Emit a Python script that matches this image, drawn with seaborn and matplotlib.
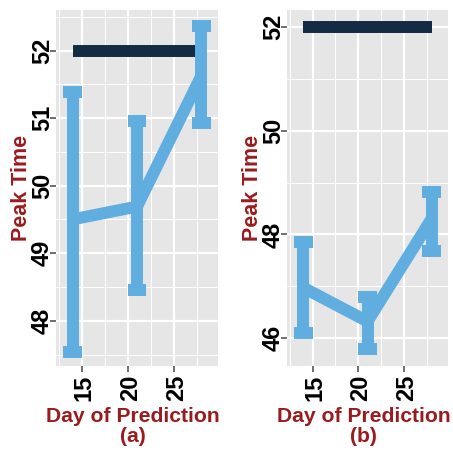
import matplotlib
matplotlib.use("Agg")
import matplotlib.pyplot as plt
import seaborn as sns
import pandas as pd
import numpy as np

# Prediction days and peak-time estimates for both scenarios
days = [14, 21, 28]
mean_a = [49.5, 49.69, 51.63]
low_a = [47.54, 48.46, 50.93]
high_a = [51.39, 50.96, 52.36]

mean_b = [46.97, 46.32, 48.3]
low_b = [46.1, 45.78, 47.67]
high_b = [47.85, 46.8, 48.81]

true_peak = 52
panel_tags = ["(a)", "(b)"]

blue = "#60ADDF"
navy = "#132B43"
label_red = "#9A1B1E"
panel_bg = "#E6E6E6"
LW = 8.6

sns.set_theme(style="darkgrid")
plt.rcParams["font.family"] = ["Liberation Sans", "DejaVu Sans"]

fig = plt.figure(figsize=(4.53, 4.50), dpi=100)
ax_a = fig.add_axes([56 / 453, 84 / 450, 162 / 453, 356 / 450])
ax_b = fig.add_axes([287 / 453, 84 / 450, 161 / 453, 356 / 450])

panels = [
    (ax_a, mean_a, low_a, high_a, (47.33, 52.6), [48, 49, 50, 51, 52]),
    (ax_b, mean_b, low_b, high_b, (45.46, 52.33), [46, 48, 50, 52]),
]

for (ax, mean, low, high, ylim, yticks), tag in zip(panels, panel_tags):
    df = pd.DataFrame({"day": days, "peak": mean, "low": low, "high": high})
    ax.set_facecolor(panel_bg)

    # reference line for the true peak
    ax.hlines(true_peak, days[0], days[-1], color=navy, lw=LW, zorder=3,
              capstyle="butt")

    # error bars: vertical whiskers and caps spanning +/- 1 day
    ax.vlines(df["day"], df["low"], df["high"], color=blue, lw=LW, zorder=4,
              capstyle="butt")
    ax.hlines(df["low"], df["day"] - 1, df["day"] + 1, color=blue, lw=LW,
              zorder=4, capstyle="butt")
    ax.hlines(df["high"], df["day"] - 1, df["day"] + 1, color=blue, lw=LW,
              zorder=4, capstyle="butt")

    sns.lineplot(data=df, x="day", y="peak", ax=ax, color=blue, lw=LW,
                 zorder=5, solid_capstyle="butt")

    ax.set_xlim(12.2, 29.8)
    ax.set_ylim(*ylim)
    ax.set_xticks([15, 20, 25])
    ax.set_xticks([12.5, 17.5, 22.5, 27.5], minor=True)
    ax.set_yticks(yticks)
    step = yticks[1] - yticks[0]
    minor_y = np.arange(yticks[0] - step / 2, ylim[1], step)
    ax.set_yticks([v for v in minor_y if ylim[0] < v < ylim[1]], minor=True)

    ax.grid(which="major", color="white", lw=1.6)
    ax.grid(which="minor", color="white", lw=0.7)
    ax.set_axisbelow(True)
    for s in ax.spines.values():
        s.set_visible(False)

    ax.tick_params(axis="both", which="major", length=4, width=1.2,
                   color="#555555", labelcolor="black", labelsize=17,
                   bottom=True, left=True)
    ax.tick_params(axis="x", pad=2)
    ax.tick_params(axis="y", pad=-2.5)
    ax.tick_params(axis="both", which="minor", length=0)
    for lab in ax.get_xticklabels():
        lab.set_fontweight("bold")
        lab.set_color("black")
        lab.set_rotation(90)
        lab.set_rotation_mode("anchor")
        lab.set_ha("right")
        lab.set_va("center_baseline")
    for lab in ax.get_yticklabels():
        lab.set_fontweight("bold")
        lab.set_color("black")
        lab.set_rotation(90)
        lab.set_va("center")

    ax.set_ylabel("Peak Time", color=label_red, fontsize=15.5, fontweight="bold")
    ax.yaxis.set_label_coords(-0.15, 0.5)
    ax.set_xlabel("Day of Prediction\n" + tag, color=label_red, fontsize=15.2,
                  fontweight="bold", linespacing=1.05)
    ax.xaxis.set_label_coords(0.475, -0.115)

fig.savefig("out.png", dpi=100)
